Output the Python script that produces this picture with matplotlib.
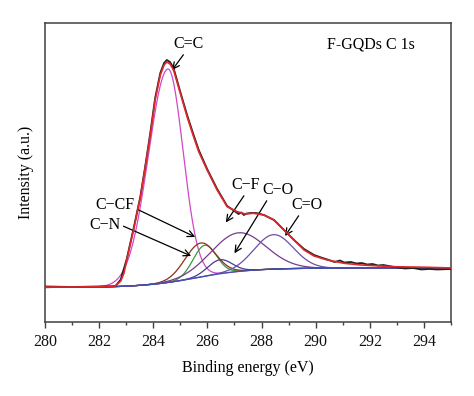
import numpy as np
import matplotlib
matplotlib.use("Agg")
import matplotlib.pyplot as plt

plt.rcParams['font.family'] = ['Liberation Serif', 'DejaVu Serif']

data_e = [280, 281, 282, 282.6, 282.8, 283.02, 283.27, 283.52, 283.7, 283.89, 284.07, 284.26,
          284.4, 284.5, 284.62, 284.75, 285.0, 285.25, 285.49, 285.68, 285.99, 286.36, 286.73,
          287.0, 287.15, 287.25, 287.35, 287.45, 287.6, 287.8, 288.09, 288.46, 288.83, 289.2,
          289.57, 289.94, 290.2, 290.43, 290.7, 290.9, 291.05, 291.3, 291.5, 291.7, 291.9,
          292.1, 292.3, 292.5, 292.9, 293.3, 293.6, 293.9, 294.2, 294.5, 295]
data_v = [35.5, 35, 35.5, 35.8, 42.5, 63, 93, 125, 155, 189, 224, 249,
          259, 262, 260, 254, 230, 207, 187, 172, 153, 133, 116,
          111, 108, 109.5, 107, 108.5, 109, 109, 107, 102, 92, 82,
          73, 67, 64.5, 62.5, 60, 61.5, 59.5, 60, 58.5, 59, 57.5,
          58, 56.5, 57, 55, 53.5, 54, 52.5, 53, 52.5, 53]

# envelope of the fit (red)
fit_e = [280, 281, 282, 282.6, 282.8, 282.92, 283.02, 283.27, 283.52, 283.7, 283.89, 284.07,
         284.26, 284.4, 284.5, 284.62, 284.75, 285.0, 285.25, 285.49, 285.68, 285.99, 286.36,
         286.73, 287.1, 287.4, 287.7, 288.09, 288.46, 288.83, 289.2, 289.57, 289.94, 290.43,
         291.05, 291.67, 292.9, 294.14, 295]
fit_v = [35, 35, 35.2, 36, 41, 49, 62, 92, 124, 154, 187, 222,
         247, 257, 260, 258, 252, 228.7, 205.3, 185.3, 170.3, 152, 132,
         115.3, 110.3, 108, 108.7, 107, 102, 92, 82, 72, 66, 62,
         58.7, 57, 55.3, 54.7, 54]

# background step: low level, high level, midpoint, width
bg_low, bg_high, bg_mid, bg_w = 34.5, 54.0, 285.6, 1.0

# fitted components: center, height above background, left / right width
comp_names = ["C=C", "C-N", "C-CF", "C-O", "C-F", "C=O"]
comp_center = [284.54, 285.9, 285.75, 286.46, 287.14, 288.45]
comp_height = [213.5, 31, 34, 14, 38.6, 34.4]
comp_sl = [0.72, 0.43, 0.58, 0.45, 1.0, 0.72]
comp_sr = [0.56, 0.43, 0.55, 0.45, 1.0, 0.72]
comp_color = ["#d048c8", "#3a9a3a", "#8b3018", "#4a3a90", "#7a3a8e", "#6a50a8"]

fig = plt.figure(figsize=(4.74, 3.96), dpi=100)
ax = fig.add_axes([0.0949, 0.1869, 0.8566, 0.755])

E = np.linspace(280, 295, 1500)
bg = bg_low + (bg_high - bg_low) / (1 + np.exp(-(E - bg_mid) / bg_w))

for c, h, sl, sr, col in zip(comp_center, comp_height, comp_sl, comp_sr, comp_color):
    s = np.where(E < c, sl, sr)
    ax.plot(E, bg + h * np.exp(-0.5 * ((E - c) / s) ** 2), color=col, lw=0.9, zorder=2)

ax.plot(E, bg, color="#4050b0", lw=0.9, zorder=2)
ax.plot(data_e, data_v, color="#202020", lw=1.3, zorder=3)
ax.plot(fit_e, fit_v, color="#e0282a", lw=1.2, zorder=4)

ax.set_xlim(280, 295)
ax.set_ylim(0, 299)
ax.set_xticks(np.arange(280, 295, 2))
ax.set_xticks(np.arange(280, 296, 1), minor=True)
ax.set_yticks([])
ax.tick_params(axis='x', which='major', direction='out', length=4, width=1, colors='#404040',
               labelsize=11.5, labelcolor='#111111', pad=5)
ax.tick_params(axis='x', which='minor', direction='out', length=2.5, width=1, colors='#404040')
for sp in ax.spines.values():
    sp.set_color('#404040')
    sp.set_linewidth(1.1)

ax.set_xlabel("Binding energy (eV)", fontsize=11.5, labelpad=7)
ax.set_ylabel("Intensity (a.u.)", fontsize=11.5, labelpad=8)

ax.text(292.04, 278, "F-GQDs C 1s", fontsize=11.5, ha='center', va='center')

arrow = dict(arrowstyle="->", color="black", lw=0.9, shrinkA=0, shrinkB=0)
fs = 11.5
ax.annotate("C=C", xy=(284.7, 252), xytext=(285.3, 278), fontsize=fs, ha='center', va='center',
            arrowprops=dict(arrow, relpos=(0.4, 0.0)))
ax.annotate("C\u2212CF", xy=(285.55, 85), xytext=(282.6, 117), fontsize=fs, ha='center', va='center',
            arrowprops=dict(arrow, relpos=(1.0, 0.3)))
ax.annotate("C\u2212N", xy=(285.4, 66), xytext=(282.22, 97), fontsize=fs, ha='center', va='center',
            arrowprops=dict(arrow, relpos=(1.0, 0.5)))
ax.annotate("C\u2212F", xy=(286.68, 99.5), xytext=(287.42, 137), fontsize=fs, ha='center', va='center',
            arrowprops=dict(arrow, relpos=(0.5, 0.0)))
ax.annotate("C\u2212O", xy=(287.0, 68.7), xytext=(288.6, 132), fontsize=fs, ha='center', va='center',
            arrowprops=dict(arrow, relpos=(0.2, 0.0)))
ax.annotate("C=O", xy=(288.87, 86), xytext=(289.67, 117), fontsize=fs, ha='center', va='center',
            arrowprops=dict(arrow, relpos=(0.3, 0.0)))

fig.savefig("out.png", dpi=100)
